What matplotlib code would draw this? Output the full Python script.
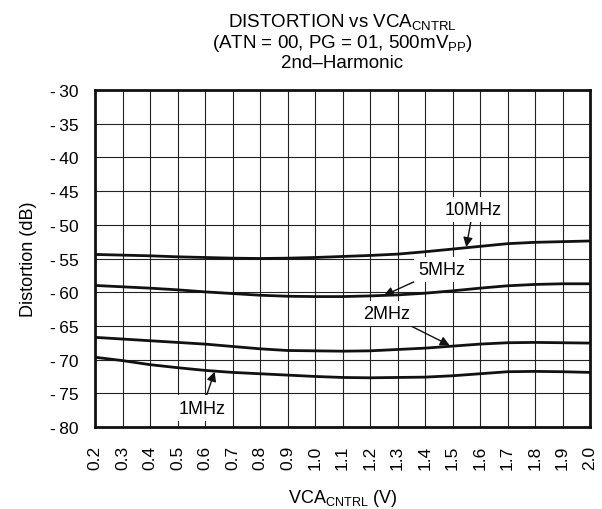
import matplotlib
matplotlib.use('Agg')
import matplotlib.pyplot as plt
import numpy as np

plt.rcParams['font.family'] = ['Liberation Sans', 'DejaVu Sans']
plt.rcParams['mathtext.default'] = 'regular'

vca = [0.2, 0.3, 0.4, 0.5, 0.6, 0.7, 0.8, 0.9, 1.0, 1.1,
       1.2, 1.3, 1.4, 1.5, 1.6, 1.7, 1.8, 1.9, 2.0]

mhz10 = [-54.4, -54.5, -54.6, -54.75, -54.85, -54.95, -55.0, -54.95, -54.85, -54.7,
         -54.55, -54.35, -54.0, -53.6, -53.2, -52.8, -52.6, -52.5, -52.4]
mhz5 = [-59.0, -59.2, -59.4, -59.65, -59.95, -60.2, -60.45, -60.6, -60.65, -60.65,
        -60.55, -60.4, -60.15, -59.8, -59.4, -59.05, -58.85, -58.75, -58.75]
mhz2 = [-66.7, -66.95, -67.2, -67.45, -67.7, -68.05, -68.4, -68.65, -68.7, -68.75,
        -68.7, -68.5, -68.3, -68.0, -67.7, -67.5, -67.45, -67.5, -67.55]
mhz1 = [-69.65, -70.15, -70.75, -71.2, -71.6, -71.9, -72.1, -72.3, -72.5, -72.65,
        -72.7, -72.65, -72.6, -72.4, -72.1, -71.8, -71.75, -71.8, -71.9]

yticks = [-30, -35, -40, -45, -50, -55, -60, -65, -70, -75, -80]

fig = plt.figure(figsize=(6.02, 5.10), dpi=100)
ax = fig.add_axes([95/602, 1-428/510, 495/602, 337/510])

for s in [mhz10, mhz5, mhz2, mhz1]:
    ax.plot(vca, s, color='#111111', lw=2.0, zorder=3)

ax.set_xlim(0.2, 2.0)
ax.set_ylim(-80, -30)
ax.set_xticks(vca)
ax.set_xticklabels(['%.1f' % v for v in vca], rotation=90, fontsize=12.5)
ax.set_yticks(yticks)
ax.set_yticklabels(['-\u2009%d' % abs(v) for v in yticks], fontsize=12.5)
ax.tick_params(axis='both', length=0)
ax.tick_params(axis='x', pad=13)
ax.tick_params(axis='y', pad=12)
ax.grid(True, color='#222222', lw=0.8)
for sp in ax.spines.values():
    sp.set_linewidth(2)
    sp.set_color('#111111')

ax.set_xlabel('VCA$_{CNTRL}$ (V)', fontsize=13, labelpad=13)
ax.set_ylabel('Distortion (dB)', fontsize=13, labelpad=9)

fig.text(342/602, 1-22/510, 'DISTORTION vs VCA$_{CNTRL}$', ha='center', va='center', fontsize=13.5)
fig.text(342/602, 1-43/510, '(ATN = 00, PG = 01, 500mV$_{PP}$)', ha='center', va='center', fontsize=13.5)
fig.text(342/602, 1-64/510, '2nd\u2013Harmonic', ha='center', va='center', fontsize=13.5)

arrow = dict(arrowstyle='-|>', color='#111111', lw=1.0, mutation_scale=14, shrinkA=0, shrinkB=0)
box = dict(facecolor='white', edgecolor='none', pad=3)
labels = [('10MHz', (1.55, -53.3), (1.575, -47.7)),
          ('5MHz', (1.25, -60.5), (1.46, -56.6)),
          ('2MHz', (1.49, -67.9), (1.26, -63.2)),
          ('1MHz', (0.635, -71.8), (0.59, -77.2))]
for name, tip, pos in labels:
    ax.annotate(name, xy=tip, xytext=pos, fontsize=13, ha='center', va='center',
                bbox=box, arrowprops=arrow, zorder=4)

fig.savefig('out.png', dpi=100)
